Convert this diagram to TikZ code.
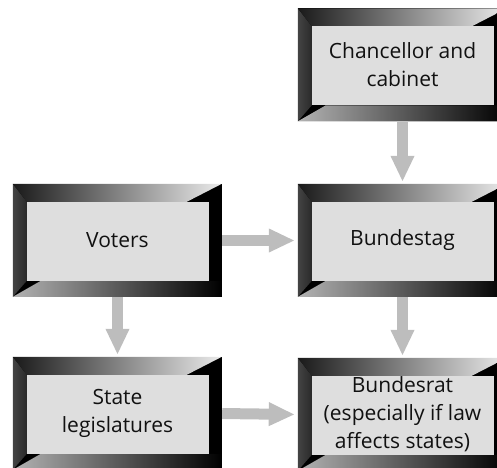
\documentclass[tikz,border=0pt]{standalone}
\usepackage{fontspec}
\setmainfont{Open Sans}
\usetikzlibrary{arrows.meta,backgrounds}

\definecolor{panelface}{HTML}{DEDEDE}
\definecolor{panelside}{HTML}{2A2A2A}
\definecolor{flowgray}{HTML}{BDBDBD}
\definecolor{ink}{HTML}{111111}

\tikzset{
  panel/.style={
    minimum width=209pt, minimum height=113pt, inner sep=0pt,
    align=center, text=ink,
    font=\fontsize{21}{28}\selectfont
  },
  flow/.style={draw=flowgray, line width=11pt,
    -{Triangle[width=22pt,length=26pt]}}
}

% bevelled frame behind a panel node: black frame, shaded top and
% bottom bands, dark left side and a light face
\newcommand{\bevelframe}[1]{%
  \begin{scope}[on background layer, shift={(#1.north west)}]
    \fill[black] (0,0) rectangle (209,113);
    \shade[left color=panelside!70!gray, right color=panelside]
      (0,0) -- (14,18) -- (14,97) -- (0,113) -- cycle;
    \shade[left color=black!90, right color=black!8]
      (0,0) -- (209,0) -- (174,18) -- (14,18) -- cycle;
    \shade[left color=black!30, middle color=black!14, right color=black]
      (0,113) -- (28,97) -- (209,97) -- (209,113) -- cycle;
    \fill[panelface] (14,18) rectangle (196,97);
  \end{scope}}

\begin{document}
\begin{tikzpicture}[x=1pt, y=-1pt]
  \useasboundingbox (0,0) rectangle (497,467);

  \node[panel] (chancellor) at (402.5,65)    {Chancellor and\\cabinet};
  \node[panel] (voters)     at (117.5,240.5) {Voters};
  \node[panel] (bundestag)  at (402.5,240.5) {Bundestag};
  \node[panel] (states)     at (117.5,413.5) {State\\legislatures};
  \node[panel] (bundesrat)  at (402.5,414.5) {Bundesrat\\(especially if law\\affects states)};

  \bevelframe{chancellor}
  \bevelframe{voters}
  \bevelframe{bundestag}
  \bevelframe{states}
  \bevelframe{bundesrat}

  \draw[flow, shorten >=2pt] (chancellor.south) -- (bundestag.north);
  \draw[flow, shorten >=3pt] (voters.east) -- (bundestag.west);
  \draw[flow, shorten >=2pt] (voters.south) -- (states.north);
  \draw[flow, shorten >=2pt] (bundestag.south) -- (bundesrat.north);
  \draw[flow, shorten >=3pt] (states.east) -- (bundesrat.west);
\end{tikzpicture}
\end{document}
